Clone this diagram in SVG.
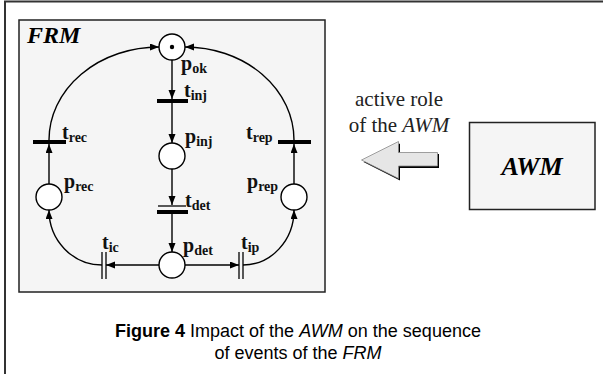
<svg xmlns="http://www.w3.org/2000/svg" width="603" height="374" viewBox="0 0 603 374">
<defs>
<marker id="ah" markerUnits="userSpaceOnUse" markerWidth="10" markerHeight="8" refX="9" refY="3.5" orient="auto">
<path d="M0,0 L9,3.5 L0,7 z" fill="#000"/>
</marker>
<style>
.pl{fill:#fff;stroke:#000;stroke-width:1.4}
.bar{fill:#000}
.dl{stroke:#000;stroke-width:1.3;fill:none}
.arc{fill:none;stroke:#000;stroke-width:1.4;marker-end:url(#ah)}
.lb{font-family:"Liberation Serif",serif;font-size:20px;font-weight:bold;fill:#111}
.sb{font-size:14px}
.cap{font-family:"Liberation Sans",Arial,sans-serif;font-size:18px;fill:#000;text-anchor:middle}
</style>
</defs>
<rect x="5" y="1.5" width="640" height="420" fill="#fff" stroke="#333" stroke-width="2"/>
<g id="frm">
<rect x="19" y="20" width="306" height="272" fill="#f5f5f5" stroke="#222" stroke-width="1.5"/>
<text x="27" y="43" font-family="Liberation Serif,serif" font-size="24" font-weight="bold" font-style="italic" fill="#000">FRM</text>
</g>
<g id="connectors">
<path class="arc" d="M172,60 L172,99"/>
<path class="arc" d="M172,103 L172,143"/>
<path class="arc" d="M172,169 L172,205"/>
<path class="arc" d="M172,214 L172,252"/>
<path class="arc" d="M159,265 L106,265"/>
<path class="arc" d="M185,265 L239,265"/>
<path class="arc" d="M102,265 A53,55 0 0 1 49,210"/>
<path class="arc" d="M243,265 A51,55 0 0 0 294,210"/>
<path class="arc" d="M49,184 L49,144"/>
<path class="arc" d="M294,184 L294,144"/>
<path class="arc" d="M49,140 A110,93 0 0 1 159,47"/>
<path class="arc" d="M294,140 A109,93 0 0 0 185,47"/>
</g>
<g id="p_ok"><circle class="pl" cx="172" cy="47" r="13"/><circle cx="172" cy="47" r="2.2" fill="#000"/>
<text class="lb" x="181" y="70">p<tspan class="sb" dy="3">ok</tspan></text></g>
<g id="t_inj"><rect class="bar" x="157" y="99" width="31" height="4"/>
<text class="lb" x="184" y="97">t<tspan class="sb" dy="3">inj</tspan></text></g>
<g id="p_inj"><circle class="pl" cx="172" cy="156" r="13"/>
<text class="lb" x="185" y="143">p<tspan class="sb" dy="3">inj</tspan></text></g>
<g id="t_det"><line class="dl" x1="158" y1="206" x2="186" y2="206"/><rect class="bar" x="157" y="210" width="31" height="4"/>
<text class="lb" x="185" y="207">t<tspan class="sb" dy="3">det</tspan></text></g>
<g id="p_det"><circle class="pl" cx="172" cy="265" r="13"/>
<text class="lb" x="183" y="252">p<tspan class="sb" dy="3">det</tspan></text></g>
<g id="t_ic"><line class="dl" x1="102" y1="252" x2="102" y2="279"/><line class="dl" x1="106" y1="252" x2="106" y2="279"/>
<text class="lb" x="102" y="249">t<tspan class="sb" dy="3">ic</tspan></text></g>
<g id="t_ip"><line class="dl" x1="239" y1="252" x2="239" y2="279"/><line class="dl" x1="243" y1="252" x2="243" y2="279"/>
<text class="lb" x="241" y="249">t<tspan class="sb" dy="3">ip</tspan></text></g>
<g id="p_rec"><circle class="pl" cx="49" cy="197" r="13"/>
<text class="lb" x="64" y="188">p<tspan class="sb" dy="3">rec</tspan></text></g>
<g id="p_rep"><circle class="pl" cx="294" cy="197" r="13"/>
<text class="lb" x="247" y="188">p<tspan class="sb" dy="3">rep</tspan></text></g>
<g id="t_rec"><rect class="bar" x="33" y="140" width="33" height="4"/>
<text class="lb" x="62" y="139">t<tspan class="sb" dy="3">rec</tspan></text></g>
<g id="t_rep"><rect class="bar" x="278" y="140" width="33" height="4"/>
<text class="lb" x="246" y="139">t<tspan class="sb" dy="3">rep</tspan></text></g>
<g id="awm">
<rect x="469.5" y="122.5" width="125.5" height="87" fill="#f5f5f5" stroke="#222" stroke-width="1.5"/>
<text x="532" y="175" text-anchor="middle" font-family="Liberation Serif,serif" font-size="26" font-weight="bold" font-style="italic" fill="#000">AWM</text>
</g>
<g id="role">
<text x="399" y="106" text-anchor="middle" font-family="Liberation Serif,serif" font-size="21" fill="#222">active role</text>
<text x="399" y="132" text-anchor="middle" font-family="Liberation Serif,serif" font-size="21" fill="#222">of the <tspan font-style="italic">AWM</tspan></text>
<polygon points="363.5,162 400,180.5 400,168 439,168 439,154 400,154 400,143.5" fill="#000"/>
<polygon points="361.5,160 398.5,141.5 398.5,152.5 437.5,152.5 437.5,166 398.5,166 398.5,178.5" fill="#e6e6e6" stroke="#888" stroke-width="0.8"/>
</g>
<g id="caption">
<text class="cap" x="298" y="337"><tspan font-weight="bold">Figure 4</tspan> Impact of the <tspan font-style="italic">AWM</tspan> on the sequence</text>
<text class="cap" x="298" y="359">of events of the <tspan font-style="italic">FRM</tspan></text>
</g>
</svg>
